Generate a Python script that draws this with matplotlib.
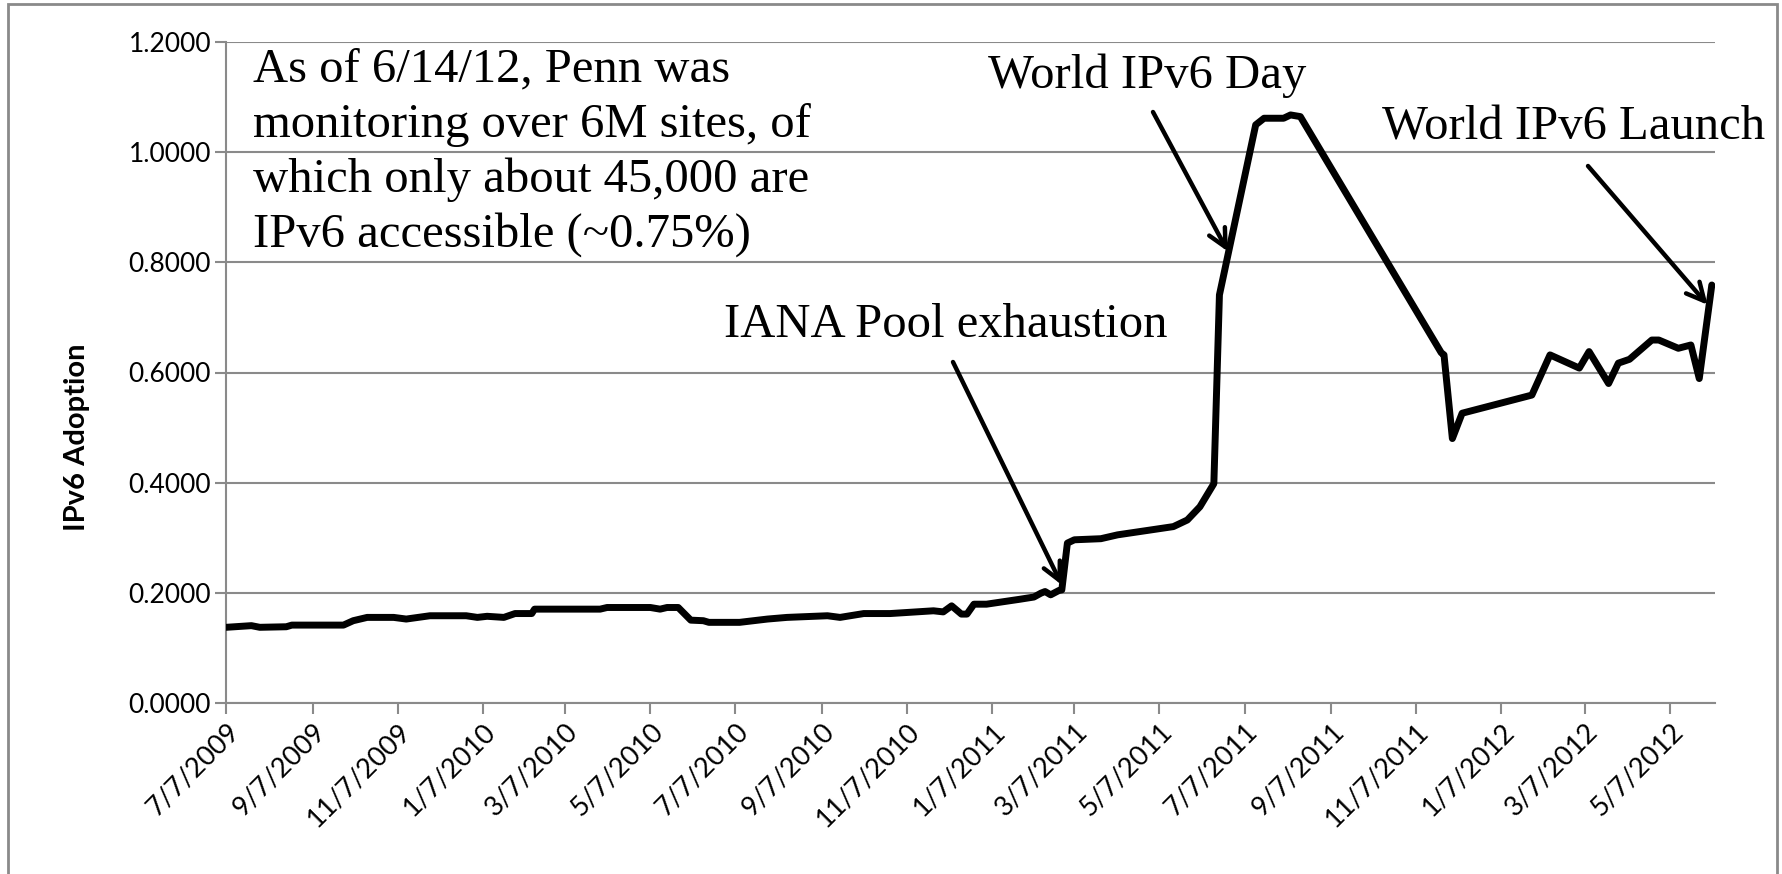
import matplotlib.pyplot as plt
import matplotlib.dates as mdates
import matplotlib.patches as mpatches
import matplotlib.ticker as mticker
import pandas as pd

dates = pd.to_datetime([
    "2009-07-07", "2009-07-25", "2009-07-31", "2009-08-19", "2009-08-23",
    "2009-09-29", "2009-10-06", "2009-10-16", "2009-11-04", "2009-11-13",
    "2009-11-30", "2009-12-26", "2010-01-03", "2010-01-10", "2010-01-22",
    "2010-01-30", "2010-02-11", "2010-02-13", "2010-04-01", "2010-04-06",
    "2010-05-07", "2010-05-14", "2010-05-19", "2010-05-27", "2010-06-05",
    "2010-06-14", "2010-06-18", "2010-07-10", "2010-07-30", "2010-08-13",
    "2010-09-11", "2010-09-20", "2010-10-07", "2010-10-26", "2010-11-26",
    "2010-12-03", "2010-12-09", "2010-12-16", "2010-12-20", "2010-12-25",
    "2011-01-03", "2011-01-27", "2011-02-06", "2011-02-11", "2011-02-14",
    "2011-02-18", "2011-02-24", "2011-02-26", "2011-03-02", "2011-03-07",
    "2011-03-26", "2011-04-07", "2011-04-23", "2011-05-17", "2011-05-27",
    "2011-06-05", "2011-06-15", "2011-06-19", "2011-07-15", "2011-07-21",
    "2011-08-04", "2011-08-09", "2011-08-16", "2011-11-25", "2011-11-27",
    "2011-12-03", "2011-12-10", "2012-01-29", "2012-02-11", "2012-03-03",
    "2012-03-10", "2012-03-24", "2012-03-31", "2012-04-08", "2012-04-24",
    "2012-04-29", "2012-05-13", "2012-05-22", "2012-05-28", "2012-06-06",
])
adoption = [
    0.137, 0.140, 0.137, 0.138, 0.141,
    0.141, 0.149, 0.155, 0.155, 0.152,
    0.158, 0.158, 0.155, 0.157, 0.155,
    0.162, 0.162, 0.170, 0.170, 0.173,
    0.173, 0.170, 0.173, 0.173, 0.150,
    0.149, 0.146, 0.146, 0.152, 0.155,
    0.158, 0.155, 0.162, 0.162, 0.167,
    0.165, 0.176, 0.161, 0.161, 0.179,
    0.179, 0.188, 0.192, 0.199, 0.202,
    0.196, 0.204, 0.205, 0.290, 0.296,
    0.298, 0.305, 0.311, 0.320, 0.332,
    0.356, 0.398, 0.741, 1.050, 1.062,
    1.062, 1.068, 1.065, 0.636, 0.632,
    0.480, 0.526, 0.559, 0.632, 0.608,
    0.638, 0.580, 0.617, 0.624, 0.659,
    0.659, 0.644, 0.650, 0.589, 0.759,
]

x_start, x_end = pd.Timestamp("2009-07-07"), pd.Timestamp("2012-06-08")
y_ticks = [0.0, 0.2, 0.4, 0.6, 0.8, 1.0, 1.2]

note_lines = ["As of 6/14/12, Penn was",
              "monitoring over 6M sites, of",
              "which only about 45,000 are",
              "IPv6 accessible (~0.75%)"]

W, H = 1783, 874


def px(x, y):
    # figure pixel (from top-left) -> figure fraction
    return x / W, 1 - y / H


grid_col = "#8a8a8a"
label_font = "Lato"
serif = "Liberation Serif"
fs_note = 35

fig = plt.figure(figsize=(W / 100, H / 100), dpi=100)
ax = fig.add_axes([226.3 / W, 1 - 702.7 / H, (1714.6 - 226.3) / W, 660.4 / H])

ax.plot(dates, adoption, color="black", lw=5, solid_joinstyle="round",
        solid_capstyle="round", zorder=3)

ax.set_xlim(x_start, x_end)
ax.set_ylim(0, 1.2)
ax.set_yticks(y_ticks)
ax.yaxis.set_major_formatter(mticker.FormatStrFormatter("%.4f"))
ax.xaxis.set_major_locator(mdates.MonthLocator(bymonth=[1, 3, 5, 7, 9, 11], bymonthday=7))
ax.xaxis.set_major_formatter(mticker.FuncFormatter(
    lambda v, pos: (lambda d: f"{d.month}/{d.day}/{d.year}")(mdates.num2date(v))))

ax.grid(axis="y", color=grid_col, lw=1.5, zorder=0)
for s in ["top", "right"]:
    ax.spines[s].set_visible(False)
for s in ["left", "bottom"]:
    ax.spines[s].set_color(grid_col)
    ax.spines[s].set_linewidth(1.5)
ax.tick_params(axis="both", colors=grid_col, width=1.5, length=8, direction="out")
ax.tick_params(axis="both", labelcolor="black")
ax.tick_params(axis="y", pad=3)

for lab in ax.get_yticklabels():
    lab.set_fontfamily(label_font)
    lab.set_fontsize(19)
for lab in ax.get_xticklabels():
    lab.set_fontfamily(label_font)
    lab.set_fontsize(19.5)
    lab.set_rotation(45)
    lab.set_ha("right")
    lab.set_va("top")
    lab.set_rotation_mode("anchor")

ax.set_ylabel("IPv6 Adoption", fontfamily=label_font, fontweight="bold", fontsize=21)
ax.yaxis.set_label_coords(90 / W, 0.5, transform=fig.transFigure)

# annotations
for i, line in enumerate(note_lines):
    fig.text(*px(252.6, 81.7 + 55 * i), line, fontfamily=serif, fontsize=fs_note,
             ha="left", va="baseline")
fig.text(*px(1147, 88), "World IPv6 Day", fontfamily=serif, fontsize=fs_note,
         ha="center", va="baseline")
fig.text(*px(1765, 140), "World IPv6 Launch", fontfamily=serif, fontsize=fs_note,
         ha="right", va="baseline")
fig.text(*px(1168, 337), "IANA Pool exhaustion", fontfamily=serif, fontsize=fs_note,
         ha="right", va="baseline")

arrow = dict(arrowstyle="->", lw=3.2, color="black", mutation_scale=32,
             shrinkA=0, shrinkB=0)
ax.annotate("", xy=(pd.Timestamp("2011-02-26"), 0.214), xytext=px(953, 362),
            textcoords="figure fraction", arrowprops=arrow)
ax.annotate("", xy=(pd.Timestamp("2011-06-25"), 0.82), xytext=px(1153, 112),
            textcoords="figure fraction", arrowprops=arrow)
ax.annotate("", xy=(pd.Timestamp("2012-06-03"), 0.723), xytext=px(1588, 166),
            textcoords="figure fraction", arrowprops=arrow)

# outer slide frame
fig.patches.append(mpatches.Rectangle(px(8, 880), (1777 - 8) / W, 876 / H,
                                      transform=fig.transFigure, fill=False,
                                      ec="#8a8a8a", lw=2))

fig.savefig("out.png", dpi=100)
